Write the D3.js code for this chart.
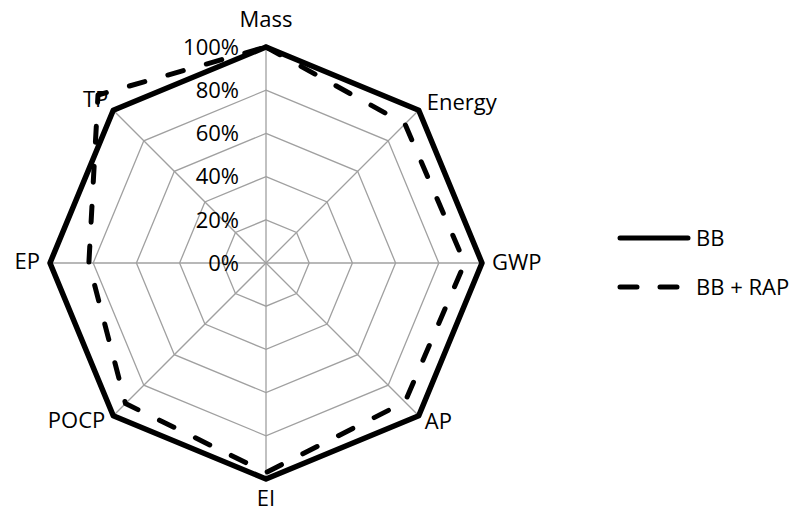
<!DOCTYPE html>
<html lang="en">
  <head>
    <meta charset='utf-8'>
    <script src='https://d3js.org/d3.v7.min.js'></script>
    <title>BB vs BB + RAP radar</title>
    <style>
      body { margin: 0px; background: #fff; }
      text { font-family: 'Open Sans', sans-serif; font-size: 22px; fill: #000; }
      .grid { stroke: #a0a0a0; stroke-width: 1.3; fill: none; }
    </style>
  </head>
  <body>
    <svg id='chart' width='792' height='515'></svg>
    <script>
      // axes and series values (fraction of 1 = 100%)
      const categories = ['Mass', 'Energy', 'GWP', 'AP', 'EI', 'POCP', 'EP', 'TP'];
      const bbValues = [1, 1, 1, 1, 1, 1, 1, 1];
      const bbRapValues = [1.0, 0.91, 0.92, 0.91, 0.97, 0.92, 0.82, 1.10];
      const tickValues = [0, 0.2, 0.4, 0.6, 0.8, 1.0];
      const seriesNames = ['BB', 'BB + RAP'];

      const cx = 266, cy = 263, radius = 216;

      const svg = d3.select('#chart');
      const g = svg.append('g').attr('transform', `translate(${cx},${cy})`);

      const rScale = d3.scaleLinear().domain([0, 1]).range([0, radius]);
      const angle = d3.scaleLinear().domain([0, categories.length]).range([0, 2 * Math.PI]);

      const pt = (v, i) => [rScale(v) * Math.sin(angle(i)), -rScale(v) * Math.cos(angle(i))];

      // grid rings
      const ringLine = d3.line().curve(d3.curveLinearClosed);
      tickValues.filter(t => t > 0).forEach(t => {
        g.append('path').attr('class', 'grid')
          .attr('d', ringLine(categories.map((c, i) => pt(t, i))));
      });

      // spokes
      categories.forEach((c, i) => {
        const p = pt(1, i);
        g.append('line').attr('class', 'grid')
          .attr('x1', 0).attr('y1', 0).attr('x2', p[0]).attr('y2', p[1]);
      });

      // series
      const seriesLine = d3.line().curve(d3.curveLinearClosed);
      g.append('path')
        .attr('d', seriesLine(bbValues.map((v, i) => pt(v, i))))
        .attr('fill', 'none').attr('stroke', '#000')
        .attr('stroke-width', 5.5).attr('stroke-linejoin', 'round');

      g.append('path')
        .attr('d', seriesLine(bbRapValues.map((v, i) => pt(v, i))))
        .attr('fill', 'none').attr('stroke', '#000')
        .attr('stroke-width', 5).attr('stroke-linecap', 'round')
        .attr('stroke-linejoin', 'round')
        .attr('stroke-dasharray', '16,24');

      // percent tick labels
      g.selectAll('.tick-label').data(tickValues).enter().append('text')
        .attr('class', 'tick-label')
        .attr('x', -27)
        .attr('y', d => -rScale(d))
        .attr('dy', '0.35em')
        .attr('text-anchor', 'end')
        .text(d3.format('.0%'));

      // category labels
      const labelPos = [
        { dx: 0, dy: -20, anchor: 'middle' },
        { dx: 8, dy: 0, anchor: 'start' },
        { dx: 10, dy: 7, anchor: 'start' },
        { dx: 6, dy: 13, anchor: 'start' },
        { dx: 0, dy: 27, anchor: 'middle' },
        { dx: -8, dy: 12, anchor: 'end' },
        { dx: -10, dy: 6, anchor: 'end' },
        { dx: -5, dy: -3, anchor: 'end' }
      ];
      g.selectAll('.cat-label').data(categories).enter().append('text')
        .attr('class', 'cat-label')
        .attr('x', (d, i) => pt(1, i)[0] + labelPos[i].dx)
        .attr('y', (d, i) => pt(1, i)[1] + labelPos[i].dy)
        .attr('text-anchor', (d, i) => labelPos[i].anchor)
        .text(d => d);

      // legend
      const legend = svg.append('g').attr('transform', 'translate(620,238)');
      seriesNames.forEach((name, i) => {
        const row = legend.append('g').attr('transform', `translate(0,${i * 49})`);
        row.append('line')
          .attr('x1', 0).attr('x2', i === 0 ? 68 : 58).attr('y1', 0).attr('y2', 0)
          .attr('stroke', '#000').attr('stroke-width', 5)
          .attr('stroke-linecap', 'round')
          .attr('stroke-dasharray', i === 0 ? null : '17,23');
        row.append('text').attr('x', 76).attr('y', 0).attr('dy', '0.35em').text(name);
      });
    </script>
  </body>
</html>
